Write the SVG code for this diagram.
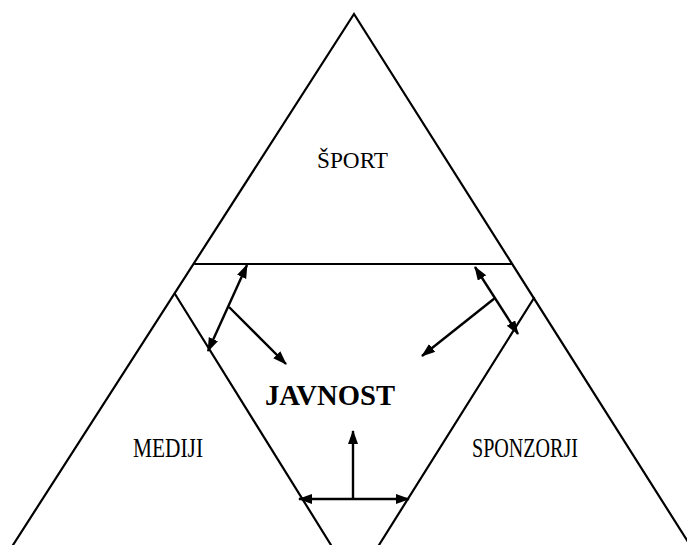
<svg xmlns="http://www.w3.org/2000/svg" width="687" height="545" viewBox="0 0 687 545">
<style>
.edge{stroke:#000;stroke-width:2.2;fill:none;stroke-linecap:round}
.arr{stroke:#000;stroke-width:2.4;fill:none}
.lbl{font-family:"Liberation Serif","Times New Roman",serif;fill:#000}
</style>
<defs>
<marker id="ah" markerUnits="userSpaceOnUse" markerWidth="14" markerHeight="12" refX="13" refY="5" orient="auto-start-reverse">
<path d="M0,0 L14,5 L0,10 z" fill="#000"/>
</marker>
</defs>
<rect width="687" height="545" fill="#fff"/>
<g id="sport">
<path class="edge" d="M13,545 L354,14 L690,545"/>
<line class="edge" x1="195" y1="264" x2="512" y2="264"/>
<text class="lbl" x="317" y="168" font-size="24" textLength="71" lengthAdjust="spacingAndGlyphs">ŠPORT</text>
</g>
<g id="mediji">
<line class="edge" x1="175" y1="294" x2="331" y2="545"/>
<text class="lbl" x="133" y="457" font-size="27" textLength="70" lengthAdjust="spacingAndGlyphs">MEDIJI</text>
</g>
<g id="sponzorji">
<line class="edge" x1="534" y1="298" x2="379" y2="545"/>
<text class="lbl" x="472" y="457" font-size="27" textLength="106" lengthAdjust="spacingAndGlyphs">SPONZORJI</text>
</g>
<g id="javnost">
<text class="lbl" x="265" y="405" font-size="29" font-weight="bold" textLength="130" lengthAdjust="spacingAndGlyphs">JAVNOST</text>
</g>
<g id="connectors">
<line class="arr" x1="208" y1="351" x2="247" y2="265" marker-start="url(#ah)" marker-end="url(#ah)"/>
<line class="arr" x1="229" y1="307" x2="286" y2="364" marker-end="url(#ah)"/>
<line class="arr" x1="475" y1="267" x2="518" y2="334" marker-start="url(#ah)" marker-end="url(#ah)"/>
<line class="arr" x1="495" y1="298" x2="422" y2="356" marker-end="url(#ah)"/>
<line class="arr" x1="299" y1="499" x2="409" y2="499" marker-start="url(#ah)" marker-end="url(#ah)"/>
<line class="arr" x1="353" y1="499" x2="353" y2="431" marker-end="url(#ah)"/>
</g>
</svg>
